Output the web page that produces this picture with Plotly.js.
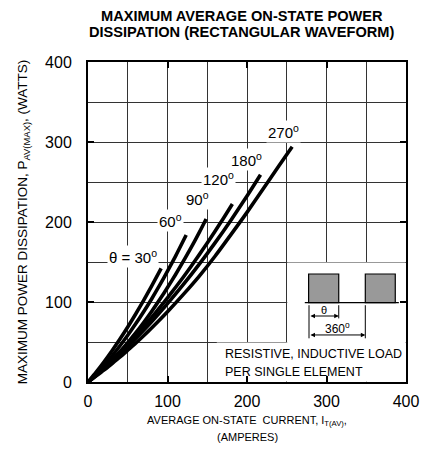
<!DOCTYPE html>
<html>
<head>
<meta charset="utf-8">
<script src="https://cdn.plot.ly/plotly-3.0.1.min.js"></script>
<style>html,body{margin:0;padding:0;background:#fff;}#chart{width:427px;height:451px;}</style>
</head>
<body>
<div id="chart"></div>
<script>
// Conduction angles and curve data (current in A, power in W)
const angleNames = ['30', '60', '90', '120', '180', '270'];
const x30 = [0, 10, 20, 30, 40, 50, 60, 70, 80, 92];
const y30 = [0, 12.1, 25.0, 38.8, 53.4, 68.8, 85.0, 102.0, 119.8, 142];
const x60 = [0, 10, 20, 30, 40, 50, 60, 70, 80, 90, 100, 110, 123.5];
const y60 = [0, 9.9, 20.7, 32.4, 45.0, 58.4, 72.7, 87.8, 103.8, 120.7, 138.5, 157.1, 183.7];
const x90 = [0, 10, 20, 30, 40, 50, 60, 70, 80, 90, 100, 110, 120, 130, 140, 148.6];
const y90 = [0, 8.3, 17.4, 27.2, 37.8, 49.3, 61.4, 74.4, 88.2, 102.7, 118.0, 134.1, 151.0, 168.6, 187.0, 203.7];
const x120 = [0, 10, 20, 30, 40, 50, 60, 70, 80, 90, 100, 110, 120, 130, 140, 150, 160, 170, 181.6];
const y120 = [0, 8.6, 17.6, 27.1, 37.0, 47.3, 58.0, 69.2, 80.8, 92.8, 105.2, 118.1, 131.3, 145.0, 159.2, 173.7, 188.7, 204.1, 222.5];
const x180 = [0, 10, 20, 30, 40, 50, 60, 70, 80, 90, 100, 120, 140, 160, 180, 200, 217];
const y180 = [0, 8.1, 16.7, 25.5, 34.8, 44.4, 54.3, 64.7, 75.4, 86.5, 97.9, 121.9, 147.3, 174.2, 202.6, 232.4, 259];
const x270 = [0, 10, 20, 30, 40, 50, 60, 70, 80, 90, 100, 120, 140, 160, 180, 200, 220, 240, 256.8];
const y270 = [0, 7.3, 14.8, 22.8, 31.0, 39.7, 48.6, 57.9, 67.5, 77.5, 87.8, 109.5, 132.4, 157.5, 184.5, 212, 241, 270, 294];

// Curve label texts and anchor points (data coords)
const labelTexts = ['θ = 30<sup>o</sup>', '60<sup>o</sup>', '90<sup>o</sup>', '120<sup>o</sup>', '180<sup>o</sup>', '270<sup>o</sup>'];
const labelX = [56.4, 103.8, 137.4, 163.6, 199.2, 246];
const labelY = [156.6, 202.5, 229.6, 254.6, 278.7, 313.7];

// Axis ticks
const tickVals = [0, 100, 200, 300, 400];
const tickText = ['0', '100', '200', '300', '400'];

// Title lines
const titleLines = ['MAXIMUM AVERAGE ON-STATE POWER', 'DISSIPATION (RECTANGULAR WAVEFORM)'];

const xs = [x30, x60, x90, x120, x180, x270];
const ys = [y30, y60, y90, y120, y180, y270];

const FONT = 'Liberation Sans, Arial, sans-serif';

const traces = xs.map((xx, i) => ({
  x: xx, y: ys[i], type: 'scatter', mode: 'lines',
  name: angleNames[i] + '°',
  line: {color: '#000', width: 3.6, shape: 'spline', smoothing: 0.6},
  hoverinfo: 'skip'
}));

const annotations = labelTexts.map((t, i) => ({
  x: labelX[i], y: labelY[i], xref: 'x', yref: 'y', text: t, showarrow: false,
  font: {family: FONT, size: 15, color: '#000'}, bgcolor: '#fff', borderpad: 1
}));

// chart title (two lines, tight spacing as in the original)
const titleYpx = [15.5, 32];
titleLines.forEach((t, i) => annotations.push({
  xref: 'paper', yref: 'paper', x: 0.484, y: (451 - 69 - titleYpx[i]) / 320, xanchor: 'center', yanchor: 'middle',
  text: '<b>' + t + '</b>', showarrow: false, font: {family: FONT, size: 14.6, color: '#000'}
}));

annotations.push(
  // second line of x-axis title
  {xref: 'paper', yref: 'paper', x: 0.5, y: -0.172, xanchor: 'center', yanchor: 'middle',
   text: '(AMPERES)', showarrow: false, font: {family: FONT, size: 11, color: '#000'}},
  // inset waveform diagram text and arrows
  {x: 170, y: 34.6, xref: 'x', yref: 'y', xanchor: 'left', text: 'RESISTIVE, INDUCTIVE LOAD', showarrow: false,
   font: {family: FONT, size: 12.5, color: '#000'}},
  {x: 170, y: 13, xref: 'x', yref: 'y', xanchor: 'left', text: 'PER SINGLE ELEMENT', showarrow: false,
   font: {family: FONT, size: 12.5, color: '#000'}},
  {x: 296.7, y: 89.5, xref: 'x', yref: 'y', text: 'θ', showarrow: false,
   font: {family: FONT, size: 11, color: '#000'}},
  {x: 313.4, y: 68, xref: 'x', yref: 'y', text: '360<sup>o</sup>', showarrow: false,
   font: {family: FONT, size: 12, color: '#000'}},
  {x: 315.4, y: 82.5, ax: 278, ay: 82.5, xref: 'x', yref: 'y', axref: 'x', ayref: 'y', text: '',
   showarrow: true, arrowside: 'end+start', arrowhead: 2, arrowsize: 0.9, arrowwidth: 1, arrowcolor: '#000', standoff: 0, startstandoff: 0},
  {x: 348.8, y: 58.8, ax: 278, ay: 58.8, xref: 'x', yref: 'y', axref: 'x', ayref: 'y', text: '',
   showarrow: true, arrowside: 'end+start', arrowhead: 2, arrowsize: 0.9, arrowwidth: 1, arrowcolor: '#000', standoff: 0, startstandoff: 0}
);

const shapes = [
  // white panels masking the grid
  {type: 'rect', xref: 'x', yref: 'y', x0: 250.6, x1: 399.5, y0: 0.6, y1: 149.4, fillcolor: '#fff', line: {width: 0}, layer: 'between'},
  {type: 'rect', xref: 'x', yref: 'y', x0: 162, x1: 399.5, y0: 0.6, y1: 49.4, fillcolor: '#fff', line: {width: 0}, layer: 'between'},
  // waveform pulses
  {type: 'rect', xref: 'x', yref: 'y', x0: 277.5, x1: 315.4, y0: 99.1, y1: 135, fillcolor: '#999', line: {color: '#000', width: 1.2}, layer: 'above'},
  {type: 'rect', xref: 'x', yref: 'y', x0: 348.8, x1: 386.5, y0: 99.1, y1: 135, fillcolor: '#999', line: {color: '#000', width: 1.2}, layer: 'above'},
  {type: 'line', xref: 'x', yref: 'y', x0: 272.7, x1: 391, y0: 99.1, y1: 99.1, line: {color: '#000', width: 1.2}, layer: 'above'},
  {type: 'line', xref: 'x', yref: 'y', x0: 278, x1: 278, y0: 96, y1: 54.6, line: {color: '#000', width: 1}, layer: 'above'},
  {type: 'line', xref: 'x', yref: 'y', x0: 315.4, x1: 315.4, y0: 96, y1: 79.5, line: {color: '#000', width: 1}, layer: 'above'},
  {type: 'line', xref: 'x', yref: 'y', x0: 348.8, x1: 348.8, y0: 96, y1: 54.6, line: {color: '#000', width: 1}, layer: 'above'}
];

const axisCommon = {
  range: [0, 400], tickmode: 'array', tickvals: tickVals, ticktext: tickText,
  ticks: 'inside', ticklen: 6, tickwidth: 2, tickcolor: '#000',
  showline: true, linecolor: '#000', linewidth: 2, mirror: 'ticks',
  showgrid: true, gridcolor: '#333', gridwidth: 1, zeroline: false,
  minor: {dtick: 50, tick0: 0, showgrid: true, gridcolor: '#333', gridwidth: 1, ticks: ''},
  tickfont: {family: FONT, size: 16, color: '#000'}, fixedrange: true
};

const layout = {
  width: 427, height: 451,
  margin: {l: 87.5, r: 20.5, t: 62, b: 69},
  paper_bgcolor: '#fff', plot_bgcolor: '#fff',
  showlegend: false,
  font: {family: FONT, color: '#000'},
  xaxis: Object.assign({}, axisCommon, {
    ticklabelstandoff: 4,
    title: {text: 'AVERAGE ON-STATE  CURRENT, I<sub>T(AV)</sub>,', font: {family: FONT, size: 11, color: '#000'}, standoff: 7}
  }),
  yaxis: Object.assign({}, axisCommon, {
    ticklabelstandoff: 11,
    title: {text: 'MAXIMUM POWER DISSIPATION, P<sub>AV(MAX)</sub>, (WATTS)', font: {family: FONT, size: 13.5, color: '#000'}, standoff: 14}
  }),
  shapes: shapes,
  annotations: annotations
};

Plotly.newPlot('chart', traces, layout, {displayModeBar: false, staticPlot: true});
</script>
</body>
</html>
